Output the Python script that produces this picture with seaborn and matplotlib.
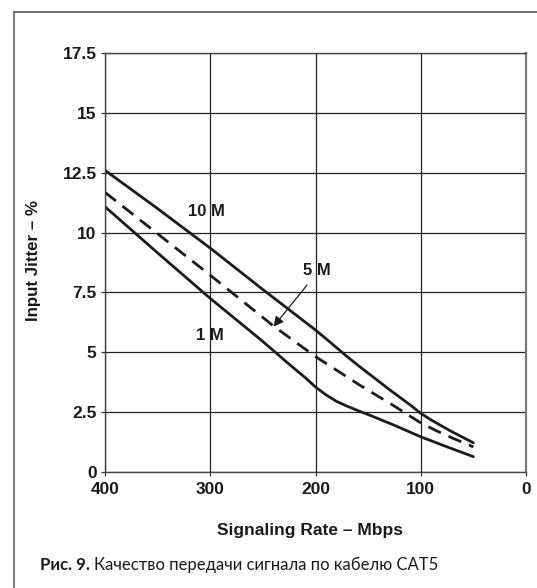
import matplotlib
matplotlib.use("Agg")
import matplotlib.pyplot as plt
import seaborn as sns
from matplotlib.lines import Line2D

# ---- data ----
rate_10m = [400, 350, 300, 250, 200, 185, 170, 158, 130, 110, 100, 90, 72, 50]
jitter_10m = [12.6, 11.0, 9.35, 7.62, 5.93, 5.38, 4.82, 4.4, 3.45, 2.8, 2.45, 2.17, 1.72, 1.22]

rate_5m = [400, 350, 300, 240, 200, 158, 125, 100, 85, 70, 50]
jitter_5m = [11.68, 9.95, 8.22, 6.1, 4.82, 3.63, 2.75, 2.05, 1.72, 1.42, 1.05]

rate_1m = [400, 350, 300, 250, 225, 210, 200, 190, 180, 170, 160, 150, 125, 100, 75, 50]
jitter_1m = [11.08, 9.15, 7.25, 5.45, 4.5, 3.95, 3.55, 3.22, 2.95, 2.75, 2.57, 2.4, 1.95, 1.47, 1.05, 0.64]

x_ticks = [400, 300, 200, 100, 0]
y_ticks = [0, 2.5, 5, 7.5, 10, 12.5, 15, 17.5]
y_tick_labels = ["0", "2.5", "5", "7.5", "10", "12.5", "15", "17.5"]

sns.set_style("white")
plt.rcParams['font.family'] = ['Liberation Sans', 'DejaVu Sans']

fig = plt.figure(figsize=(5.37, 5.88), dpi=100)
ax = fig.add_axes([105/537, 1-472/588, 421/537, 419/588])

ink = "#1c1c1c"
sns.lineplot(x=rate_10m, y=jitter_10m, ax=ax, color=ink, lw=2.0, sort=False)
sns.lineplot(x=rate_5m, y=jitter_5m, ax=ax, color=ink, lw=2.0, sort=False,
             linestyle=(0, (5, 3)))
sns.lineplot(x=rate_1m, y=jitter_1m, ax=ax, color=ink, lw=2.0, sort=False)

ax.set_xlim(400, 0)
ax.set_ylim(0, 17.5)
ax.set_xticks(x_ticks)
ax.set_yticks(y_ticks)
ax.set_yticklabels(y_tick_labels)
ax.grid(True, color="#222222", lw=0.9)
ax.set_axisbelow(True)
for s in ax.spines.values():
    s.set_color("#444444")
    s.set_linewidth(1.0)
ax.spines['right'].set_color("#777777")
ax.spines['right'].set_linewidth(1.6)

ax.tick_params(axis='both', which='both', length=3, width=0.9, color="#333333",
               labelsize=12.5, labelcolor="#1a1a1a", bottom=True, left=True)
ax.tick_params(axis='x', pad=4.5)
ax.tick_params(axis='y', pad=3)
for lab in ax.get_xticklabels() + ax.get_yticklabels():
    lab.set_fontweight("bold")

ax.set_xlabel("Signaling Rate – Mbps", fontsize=12.5, fontweight="bold", color="#1a1a1a")
ax.set_ylabel("Input Jitter – %", fontsize=12.2, fontweight="bold", color="#1a1a1a")
ax.xaxis.set_label_coords(0.487, -0.122)
ax.yaxis.set_label_coords(-0.17, 0.504)
ax.xaxis.label.set_va("top")
ax.yaxis.label.set_va("center")

# curve labels
ax.text(304, 10.87, "10 M", fontsize=12, fontweight="bold", ha="center", va="center", color=ink)
ax.text(300, 5.72, "1 M", fontsize=12, fontweight="bold", ha="center", va="center", color=ink)
ax.text(199, 8.41, "5 M", fontsize=12, fontweight="bold", ha="center", va="center", color=ink)
ax.annotate("", xy=(240, 6.07), xytext=(208, 7.81),
            arrowprops=dict(arrowstyle="-|>", color=ink, lw=0.9,
                            mutation_scale=15, shrinkA=0, shrinkB=0))

# outer frame (left and top only)
fig.add_artist(Line2D([14/537, 14/537], [0, 1-12/588], transform=fig.transFigure,
                      color="#808080", lw=1.5))
fig.add_artist(Line2D([14/537, 1], [1-12/588, 1-12/588], transform=fig.transFigure,
                      color="#555555", lw=1.2))

# caption
t1 = fig.text(40/537, 1-565/588, "Рис. 9.", fontsize=12, fontweight="bold",
              family=["Lato", "DejaVu Sans"], color="#1a1a1a", va="center", ha="left")
fig.canvas.draw()
bb = t1.get_window_extent()
fig.text((bb.x1 + 4)/537, 1-565/588, "Качество передачи сигнала по кабелю CAT5",
         fontsize=12, family=["Lato", "DejaVu Sans"], color="#1a1a1a",
         va="center", ha="left")

fig.savefig("out.png", dpi=100)
